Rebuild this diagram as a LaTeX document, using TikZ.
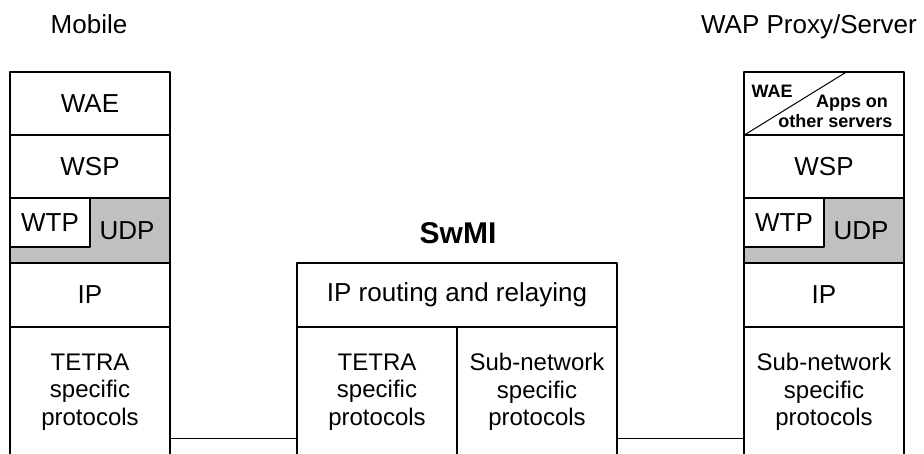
\documentclass[tikz,border=0pt]{standalone}
\usepackage{fontspec}
\setmainfont{Liberation Sans}
\definecolor{udpgray}{RGB}{192,192,192}
\begin{document}
\begin{tikzpicture}[x=1pt, y=-1pt, line join=round,
	layer/.style={draw, line width=1.2pt, inner sep=0pt, minimum width=160pt, minimum height=63pt, font=\fontsize{26}{28.5}\selectfont, align=center},
	proto/.style={layer, minimum height=130pt, font=\fontsize{24}{27.5}\selectfont},
	title/.style={font=\fontsize{26}{28.5}\selectfont, anchor=base},
	small/.style={font=\fontsize{18}{20}\selectfont\bfseries, anchor=base}]
	\useasboundingbox (0,0) rectangle (924,453);
	\clip (0,0) rectangle (924,453);
	\node[title] (mob) at (89,33) {Mobile};
	\node[title] (wap) at (809,33) {WAP Proxy/Server};
	\node[title, font=\fontsize{30}{32}\selectfont\bfseries] (swmi) at (458,243) {SwMI};
	% the two end stacks
	\foreach \s/\x in {l/90,r/824}{
		\node[layer] (\s wsp) at (\x,166.5) {WSP};
		\node[layer, fill=udpgray, minimum height=65pt] (\s udp) at (\x,230.5) {};
		\node[layer, fill=white, minimum width=80pt, minimum height=49pt] (\s wtp) at (\x-40,222.5) {WTP};
		\node[font=\fontsize{26}{28.5}\selectfont] (\s udptxt) at (\x+37,231) {UDP};
		\node[layer, minimum height=64pt] (\s ip) at (\x,295) {IP};
	}
	\node[layer] (lwae) at (90,103.5) {WAE};
	\node[layer] (rwae) at (824,103.5) {};
	\draw[line width=1pt] (rwae.south west)--([xshift=104pt]rwae.north west);
	\node[small] (rwaetxt) at (772,97) {WAE};
	\node[small] (rapps) at (852,107) {Apps on};
	\node[small] (rother) at (835.5,127) {other servers};
	\node[proto] (lprot) at (90,392) {TETRA\\specific\\protocols};
	\node[proto] (rprot) at (824,392) {Sub-network\\specific\\protocols};
	% SwMI
	\node[layer, minimum width=320pt, minimum height=64pt] (mip) at (457,295) {IP routing and relaying};
	\node[proto] (mtetra) at (377,392) {TETRA\\specific\\protocols};
	\node[proto] (msub) at (537,392) {Sub-network\\specific\\protocols};
	\draw[line width=1.2pt] ([yshift=19pt]lprot.south east)--([yshift=19pt]mtetra.south west)
		([yshift=19pt]msub.south east)--([yshift=19pt]rprot.south west);
\end{tikzpicture}
\end{document}
